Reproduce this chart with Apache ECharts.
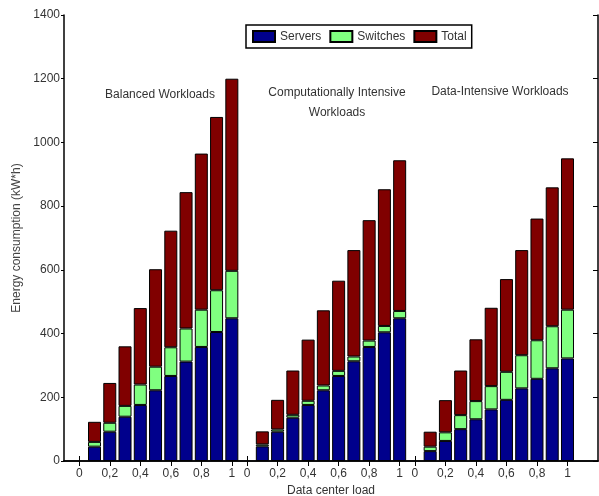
<!DOCTYPE html>
<html>
<head>
<meta charset="utf-8">
<script src="https://cdn.jsdelivr.net/npm/echarts@6/dist/echarts.min.js"></script>
<style>html,body{margin:0;padding:0;background:#fff;overflow:hidden}#c{width:599px;height:496px}</style>
</head>
<body>
<div id="c"></div>
<script>
// ---- data ----
var groupNames = ['Balanced Workloads', 'Computationally Intensive\nWorkloads', 'Data-Intensive Workloads'];
var loadTickLabels = ['0', '0,2', '0,4', '0,6', '0,8', '1'];
var loads = [0.1, 0.2, 0.3, 0.4, 0.5, 0.6, 0.7, 0.8, 0.9, 1.0];

var serversBalanced = [45, 92, 139, 176, 222, 267, 312, 358, 405, 448];
var switchesBalanced = [15, 28, 34, 64, 74, 90, 104, 117, 131, 149];
var totalBalanced = [123, 245, 360, 480, 602, 723, 844, 965, 1080, 1200];

var serversCompute = [46, 92, 136, 176, 222, 267, 313, 358, 404, 448];
var switchesCompute = [6, 7, 9, 13, 15, 16, 15, 20, 20, 23];
var totalCompute = [93, 192, 284, 381, 473, 566, 662, 756, 853, 944];

var serversData = [31, 63, 100, 131, 162, 192, 228, 258, 291, 322];
var switchesData = [14, 27, 44, 57, 73, 88, 104, 121, 132, 153];
var totalData = [92, 191, 284, 382, 481, 571, 662, 761, 859, 950];

var yTicks = [0, 200, 400, 600, 800, 1000, 1200, 1400];

// ---- build category axis: one empty slot before, 3 groups of 11 slots (0..1), then two spare slots ----
var groupServers = [serversBalanced, serversCompute, serversData];
var groupSwitches = [switchesBalanced, switchesCompute, switchesData];
var groupTotal = [totalBalanced, totalCompute, totalData];

var cats = [''];
var tickFlags = [false];
var sData = [null], wData = [null], rData = [null];
for (var g = 0; g < 3; g++) {
  for (var k = 0; k <= loads.length; k++) {
    var lab = (k % 2 === 0) ? loadTickLabels[k / 2] : '';
    cats.push(lab);
    tickFlags.push(k % 2 === 0);
    if (k === 0) { sData.push(null); wData.push(null); rData.push(null); }
    else {
      var s = groupServers[g][k - 1], w = groupSwitches[g][k - 1], t = groupTotal[g][k - 1];
      sData.push(s); wData.push(w); rData.push(t - s - w);
    }
  }
}
for (var e = 0; e < 2; e++) { cats.push(''); tickFlags.push(false); sData.push(null); wData.push(null); rData.push(null); }

var chart = echarts.init(document.getElementById('c'));
var font = 'Liberation Sans, Arial, sans-serif';
var barStyle = function (c) { return { color: c, borderColor: '#000', borderWidth: 1 }; };

chart.setOption({
  animation: false,
  backgroundColor: '#fff',
  textStyle: { fontFamily: font },
  grid: { left: 64, top: 15, right: 1, bottom: 35, containLabel: false, outerBoundsMode: 'none' },
  legend: {
    top: 25, left: 246,
    data: ['Servers', 'Switches', 'Total'],
    itemWidth: 22, itemHeight: 11, itemGap: 8,
    borderColor: '#000', borderWidth: 1.5, padding: [5, 5, 5, 6],
    backgroundColor: '#fff',
    textStyle: { fontSize: 12, color: '#333', fontFamily: font },
    icon: 'rect'
  },
  xAxis: [{
    type: 'category', data: cats, boundaryGap: false, position: 'bottom',
    name: 'Data center load', nameLocation: 'middle', nameGap: 23,
    nameTextStyle: { fontSize: 12, color: '#333' },
    axisLine: { lineStyle: { color: '#000', width: 1.5 } },
    axisTick: { inside: true, length: 5, lineStyle: { color: '#000' },
      interval: function (i) { return tickFlags[i]; } },
    axisLabel: { interval: function (i) { return tickFlags[i]; }, fontSize: 12, color: '#333', margin: 7 }
  }, {
    type: 'category', data: cats, boundaryGap: false, position: 'top',
    axisLine: { lineStyle: { color: '#000', width: 1.5 } },
    axisTick: { inside: true, length: 5, lineStyle: { color: '#000' },
      interval: function (i) { return tickFlags[i]; } },
    axisLabel: { show: false }
  }],
  yAxis: [{
    type: 'value', min: yTicks[0], max: yTicks[yTicks.length - 1], interval: 200,
    name: 'Energy consumption (kW*h)', nameLocation: 'middle', nameGap: 40,
    nameTextStyle: { fontSize: 12, color: '#444' },
    axisLine: { show: true, lineStyle: { color: '#000', width: 1.5 } },
    axisTick: { show: true, length: 3, lineStyle: { color: '#000' } },
    axisLabel: { fontSize: 12, color: '#333', margin: 4, formatter: function (v) { return String(v); } },
    splitLine: { show: false }
  }, {
    type: 'value', min: yTicks[0], max: yTicks[yTicks.length - 1], interval: 200, position: 'right',
    axisLine: { show: true, lineStyle: { color: '#000', width: 1.5 } },
    axisTick: { show: true, inside: true, length: 5, lineStyle: { color: '#000' } },
    axisLabel: { show: false }, splitLine: { show: false }
  }],
  series: [
    { name: 'Servers', type: 'bar', stack: 'e', data: sData, barWidth: 13, itemStyle: barStyle('#00008c') },
    { name: 'Switches', type: 'bar', stack: 'e', data: wData, barWidth: 13, itemStyle: barStyle('#80ff80') },
    { name: 'Total', type: 'bar', stack: 'e', data: rData, barWidth: 13, itemStyle: barStyle('#800000') }
  ],
  graphic: [
    { type: 'text', x: 160, y: 89, style: { text: groupNames[0], font: '12px ' + font, fill: '#333', textAlign: 'center' } },
    { type: 'text', x: 337, y: 83, style: { text: groupNames[1], font: '12px ' + font, fill: '#333', textAlign: 'center', lineHeight: 20 } },
    { type: 'text', x: 500, y: 86, style: { text: groupNames[2], font: '12px ' + font, fill: '#333', textAlign: 'center' } }
  ]
});
</script>
</body>
</html>
